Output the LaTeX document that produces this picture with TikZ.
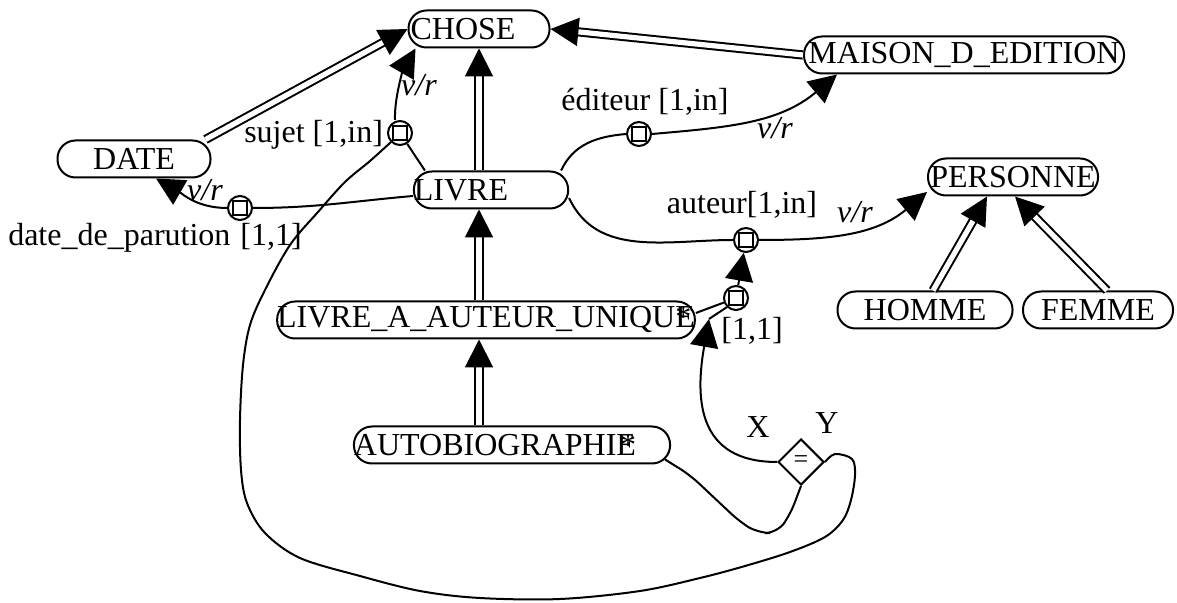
\documentclass[tikz,border=0pt]{standalone}
\usepackage{fontspec}
\setmainfont{Liberation Serif}
\usetikzlibrary{arrows.meta, shapes.geometric}

\begin{document}
\begin{tikzpicture}[
  x=0.5pt, y=-0.5pt,
  font=\fontsize{16}{19}\selectfont,
  >={Triangle[length=14pt, width=14pt]},
  cls/.style={rectangle, rounded corners=9pt, draw, line width=1pt,
              inner sep=0pt, minimum height=18.5pt},
  attr/.style={circle, draw, line width=1pt, minimum size=12pt, inner sep=0pt,
               path picture={\draw[line width=0.9pt]
                 ([shift={(-3.5pt,-3.5pt)}]path picture bounding box.center) rectangle
                 ([shift={(3.5pt,3.5pt)}]path picture bounding box.center);}},
  eqbox/.style={diamond, draw, line width=1pt, minimum width=23pt,
                minimum height=23pt, inner sep=0pt, font=\fontsize{13}{13}\selectfont},
  isa/.style={->, double, double distance=2.6pt, line width=1pt},
  link/.style={line width=1pt},
  vr/.style={font=\fontsize{16}{19}\selectfont\itshape},
]
\useasboundingbox (0,0) rectangle (1177,603);

%% Classes
\node[cls, minimum width=70.5pt]  (chose)    at (479,29)   {CHOSE\hspace*{16pt}};
\node[cls, minimum width=160pt]   (maison)   at (964,55)   {MAISON\_D\_EDITION};
\node[cls, minimum width=76.5pt]  (date)     at (134,159)  {DATE};
\node[cls, minimum width=75pt]    (livre)    at (491,190)  {LIVRE\hspace*{30pt}};
\node[cls, minimum width=85pt]    (personne) at (1013,177) {PERSONNE};
\node[cls, minimum width=87.5pt]  (homme)    at (925,310)  {HOMME};
\node[cls, minimum width=75pt]    (femme)    at (1098,310) {FEMME};
\node[cls, minimum width=206.5pt] (livrea)   at (486,320)  {LIVRE\_A\_AUTEUR\_UNIQU\rlap{*}E};
\node[cls, minimum width=157pt]   (autobio)  at (512,445)  {AUTOBIOGRAPHIE\llap{*}\hspace*{17pt}};

%% Attributes
\node[attr]  (sujet)  at (400,133) {};
\node[attr]  (dpar)   at (240,208) {};
\node[attr]  (edit)   at (639,134) {};
\node[attr]  (auteur) at (746,240) {};
\node[attr]  (unq)    at (736,298) {};
\node[eqbox] (eq)     at (801,462) {=};
\coordinate  (xtip)   at (709,319);

%% Labels
\node[anchor=east] (lsujet) at (390,135) {sujet [1,in]};
\node (ldpar)   at (155,238) {date\_de\_parution\hspace{5pt}[1,1]};
\node (ledit)   at (645,102) {éditeur [1,in]};
\node (lauteur) at (742,205) {auteur[1,in]};
\node (lunq)    at (752,331) {[1,1]};
\node (lx)      at (758,427) {X};
\node (ly)      at (827,423) {Y};
\node[vr] (vr1) at (419,85)  {v/r};
\node[vr] (vr2) at (205,190) {v/r};
\node[vr] (vr3) at (775,128) {v/r};
\node[vr] (vr4) at (855,212) {v/r};

%% Inheritance
\draw[isa] ([xshift=-3pt]date.north east) -- (chose.west);
\draw[isa] (maison.west) -- (chose.east);
\draw[isa] (livre.north -| chose.south) -- (chose.south);
\draw[isa] (livrea.north -| chose.south) -- (livre.south -| chose.south);
\draw[isa] (autobio.north -| chose.south) -- (livrea.south -| chose.south);
\draw[isa] ([xshift=4pt]homme.north) -- ([xshift=-13pt]personne.south);
\draw[isa] ([xshift=4.5pt]femme.north) -- ([xshift=1pt]personne.south);

%% Roles
\draw[link] (sujet) -- ([xshift=6pt]livre.north west);
\draw[link, ->] ([xshift=-2.5pt]sujet.north) to[out=92, in=240, looseness=0.8] ([xshift=4pt]chose.south west);
\draw[link] ([yshift=-3pt]livre.west) to[out=185, in=0] (dpar.east);
\draw[link, ->] (dpar.west) to[out=180, in=-30] ([xshift=11pt]date.south);
\draw[link] ([xshift=-4pt]livre.north east) to[out=65, in=185] (edit.west);
\draw[link, ->] (edit.east) to[out=5, in=220] ([xshift=17pt]maison.south west);
\draw[link] ([yshift=-4pt]livre.east) to[out=-65, in=180] (auteur.west);
\draw[link, ->] (auteur.east) to[out=0, in=220] ([yshift=-7.5pt]personne.west);
\draw[link] ([yshift=3.5pt]livrea.east) -- (unq);
\draw[link, ->] (unq) -- (auteur);

%% Constraint X = Y
\draw[link] (unq.south west) -- (xtip);
\draw[link, ->] (eq.west) to[out=180, in=-100, looseness=1.3] (xtip);
\draw[link, rounded corners=6pt] ([xshift=-3pt, yshift=2.5pt]autobio.south east)
  -- (690,475) -- (740,522) -- (758,533) -- (777,533) -- (790,515) -- (eq.south);
\draw[link] plot[smooth, tension=0.55] coordinates {
  (eq.east) (835,454) (852,459) (855,475) (851,500) (843,520) (825,537)
  (790,552) (745,566) (700,578) (640,591) (560,599) (480,598) (420,591)
  (360,576) (300,558) (265,533) (247,503) (241,470) (240,420) (243,365)
  (250,325) (265,290) (290,245) (318,212) (345,182) (370,161) (sujet.south west)};
\end{tikzpicture}
\end{document}
